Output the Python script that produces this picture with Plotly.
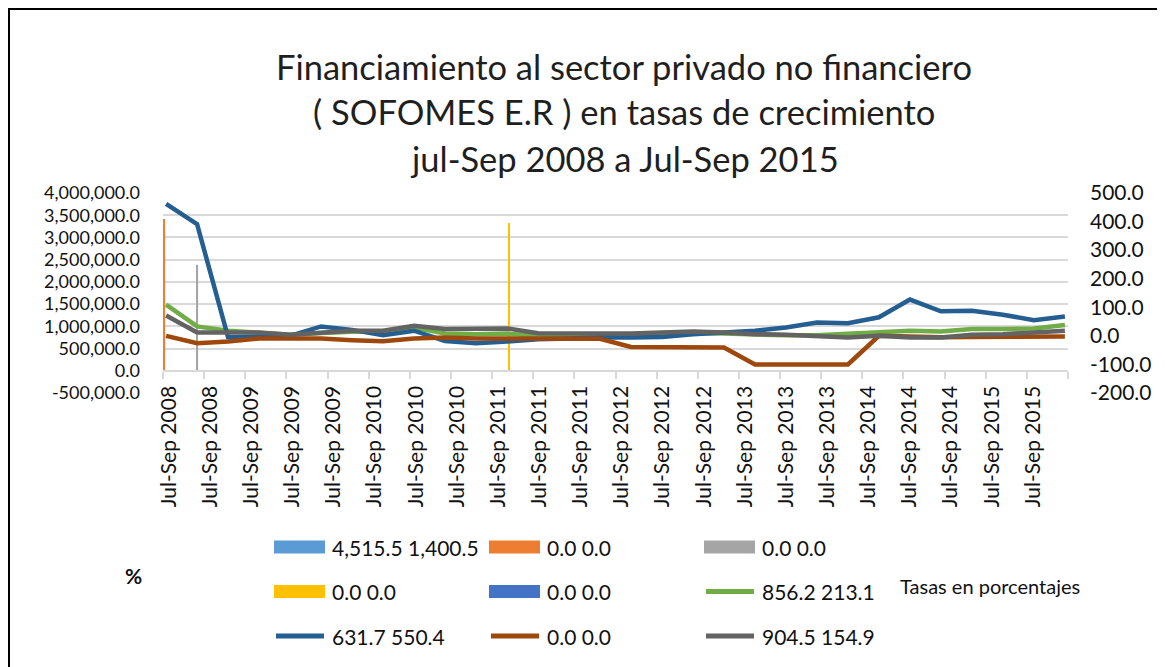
import plotly.graph_objects as go

# ---------------- data ----------------
etiquetas = ["Jul-Sep 2008", "Jul-Sep 2008", "Jul-Sep 2009", "Jul-Sep 2009", "Jul-Sep 2009",
             "Jul-Sep 2010", "Jul-Sep 2010", "Jul-Sep 2010", "Jul-Sep 2011", "Jul-Sep 2011",
             "Jul-Sep 2011", "Jul-Sep 2012", "Jul-Sep 2012", "Jul-Sep 2012", "Jul-Sep 2013",
             "Jul-Sep 2013", "Jul-Sep 2013", "Jul-Sep 2014", "Jul-Sep 2014", "Jul-Sep 2014",
             "Jul-Sep 2015", "Jul-Sep 2015"]

periodos = [1, 2, 3, 4, 5, 6, 7, 8, 9, 10, 11, 12, 13, 14, 15,
            16, 17, 18, 19, 20, 21, 22, 23, 24, 25, 26, 27, 28, 29, 30]

# column series (left axis)
barra_celeste = [0, 0, 0, 0, 0, 0, 0, 0, 0, 0, 0, 0, 0, 0, 0,
                 0, 0, 0, 0, 0, 0, 0, 0, 0, 0, 0, 0, 0, 0, 0]
barra_naranja = [3414000, 0, 0, 0, 0, 0, 0, 0, 0, 0, 0, 0, 0, 0, 0,
                 0, 0, 0, 0, 0, 0, 0, 0, 0, 0, 0, 0, 0, 0, 0]
barra_gris = [0, 2384000, 0, 0, 0, 0, 0, 0, 0, 0, 0, 0, 0, 0, 0,
              0, 0, 0, 0, 0, 0, 0, 0, 0, 0, 0, 0, 0, 0, 0]
barra_amarilla = [0, 0, 0, 0, 0, 0, 0, 0, 0, 0, 0, 3324000, 0, 0, 0,
                  0, 0, 0, 0, 0, 0, 0, 0, 0, 0, 0, 0, 0, 0, 0]
barra_azul = [0, 0, 0, 0, 0, 0, 0, 0, 0, 0, 0, 0, 0, 0, 0,
              0, 0, 0, 0, 0, 0, 0, 0, 0, 0, 0, 0, 0, 0, 0]

# line series (right axis, %)
linea_verde = [109, 33, 18, 10, 4, 10, 14, 14, 29, 8, 6, 8, 0, 2, 2,
               4, 6, 10, 8, 4, 2, 2, 8, 12, 18, 15, 24, 24, 26, 38]
linea_azul = [462, 391, -5, -4, 0, 33, 21, 2, 18, -18, -26, -20, -12, -9, -5,
              -6, -4, 6, 12, 18, 29, 47, 44, 65, 127, 86, 88, 74, 55, 68]
linea_cafe = [0, -26, -20, -9, -9, -9, -15, -19, -9, -6, -9, -9, -10, -10, -10,
              -39, -40, -41, -41, -100, -100, -100, -100, 0, -4, -5, -4, -4, -3, -2]
linea_gris = [71, 12, 12, 12, 4, 12, 18, 18, 35, 24, 24, 26, 9, 9, 6,
              8, 12, 15, 12, 6, 4, 0, -6, 0, -6, -6, 4, 6, 12, 18]

nombres = ["4,515.5 1,400.5", "0.0 0.0", "0.0 0.0", "0.0 0.0", "0.0 0.0",
           "856.2 213.1", "631.7 550.4", "0.0 0.0", "904.5 154.9"]
colores = ["#5B9BD5", "#ED7D31", "#A5A5A5", "#FFC000", "#4472C4",
           "#70AD47", "#255E91", "#9E480E", "#636363"]
tipos = ["bar", "bar", "bar", "bar", "bar", "line", "line", "line", "line"]
valores = [barra_celeste, barra_naranja, barra_gris, barra_amarilla, barra_azul,
           linea_verde, linea_azul, linea_cafe, linea_gris]

titulo_lineas = ["Financiamiento al sector privado no financiero",
                 "( SOFOMES E.R ) en tasas de crecimiento",
                 "jul-Sep 2008 a Jul-Sep 2015"]

izq_min, izq_max, izq_paso = -500000, 4000000, 500000
der_min, der_max, der_paso = -200, 500, 100

# ---------------- layout geometry ----------------
# page coordinates of the reference picture; the page body has an 8px margin
OFF = 8
W, H = 1165 - OFF, 667 - OFF
PL, PR, PT, PB = 163, 1068, 193, 393  # plot area in page pixels
FONT = "Lato"
TXT = "#111111"


def fx(p):
    return (p - PL) / (PR - PL)


def fy(p):
    return (PB - p) / (PB - PT)


fig = go.Figure()

for nom, col, tip, val in zip(nombres, colores, tipos, valores):
    if tip == "bar":
        fig.add_trace(go.Bar(x=periodos, y=val, name=nom, marker_color=col,
                             marker_line_width=0, xaxis="x", yaxis="y",
                             showlegend=False, hoverinfo="skip"))
for nom, col, tip, val in zip(nombres, colores, tipos, valores):
    if tip == "line":
        fig.add_trace(go.Scatter(x=periodos, y=val, name=nom, mode="lines",
                                 line=dict(color=col, width=4.5),
                                 xaxis="x", yaxis="y2", showlegend=False))
# empty trace so the category-label axis (x2) is drawn
fig.add_trace(go.Scatter(x=[], y=[], xaxis="x2", yaxis="y", showlegend=False,
                         hoverinfo="skip"))

izq_ticks = list(range(izq_min, izq_max + 1, izq_paso))
der_ticks = list(range(der_min, der_max + 1, der_paso))
cero_pos = (0 - izq_min) / (izq_max - izq_min)

fig.update_layout(
    width=W, height=H, autosize=False,
    margin=dict(l=PL - OFF, r=W - (PR - OFF), t=PT - OFF, b=H - (PB - OFF), pad=0),
    paper_bgcolor="white", plot_bgcolor="white",
    font=dict(family=FONT, size=21, color=TXT),
    barmode="group", bargap=0.68, bargroupgap=0,
    showlegend=False,
    xaxis=dict(range=[0.9, 30.1], visible=False, showgrid=False,
               zeroline=False, automargin=False),
    xaxis2=dict(overlaying="x", anchor="free", position=cero_pos,
                range=[0, len(etiquetas)],
                tickmode="array", tickvals=list(range(len(etiquetas) + 1)),
                ticktext=etiquetas + [""],
                tickangle=-90, ticks="outside", ticklen=7, tickwidth=1.5,
                tickcolor="#D9D9D9", showline=True, linecolor="#D9D9D9",
                linewidth=1.5, showgrid=False, zeroline=False,
                ticklabelstandoff=-1, ticklabelshift=6,
                tickfont=dict(family=FONT, size=21, color=TXT),
                automargin=False),
    yaxis=dict(range=[izq_min, izq_max], tickmode="array", tickvals=izq_ticks,
               ticktext=[f"{v:,.1f}" for v in izq_ticks],
               showgrid=True, gridcolor="#D9D9D9", gridwidth=1.5,
               zeroline=False, showline=False, ticks="",
               ticklabelstandoff=22,
               tickfont=dict(family=FONT, size=18, color=TXT),
               automargin=False),
    yaxis2=dict(overlaying="y", side="right", anchor="x",
                range=[der_min, der_max], tickmode="array", tickvals=der_ticks,
                ticktext=[f"{v:,.1f}" for v in der_ticks],
                showgrid=False, zeroline=False, showline=False, ticks="",
                ticklabelstandoff=21,
                tickfont=dict(family=FONT, size=21, color=TXT),
                automargin=False),
)

# title lines
for linea, yc in zip(titulo_lineas, [66, 111, 158]):
    fig.add_annotation(text=linea, xref="paper", yref="paper", x=fx(624), y=fy(yc),
                       xanchor="center", yanchor="middle", showarrow=False,
                       font=dict(family=FONT, size=34.5, color="#1f1f1f"))

# manual legend (3 columns x 3 rows)
for k, (nom, col, tip) in enumerate(zip(nombres, colores, tipos)):
    c, r = k % 3, k // 3
    x0 = 274 + 215 * c
    x1 = x0 + 51
    yc = 547 + 44.5 * r
    if tip == "bar":
        fig.add_shape(type="rect", xref="paper", yref="paper",
                      x0=fx(x0), x1=fx(x1), y0=fy(yc - 6.5), y1=fy(yc + 6.5),
                      fillcolor=col, line=dict(width=0))
    else:
        fig.add_shape(type="line", xref="paper", yref="paper",
                      x0=fx(x0 + 2), x1=fx(x1 - 1), y0=fy(yc), y1=fy(yc),
                      line=dict(color=col, width=5))
    fig.add_annotation(text=nom, xref="paper", yref="paper", x=fx(x1 + 5), y=fy(yc),
                       xanchor="left", yanchor="middle", showarrow=False,
                       font=dict(family=FONT, size=21, color=TXT))

fig.add_annotation(text="<b>%</b>", xref="paper", yref="paper", x=fx(133), y=fy(575),
                   xanchor="center", yanchor="middle", showarrow=False,
                   font=dict(family=FONT, size=21, color=TXT))
fig.add_annotation(text="Tasas en porcentajes", xref="paper", yref="paper",
                   x=fx(990), y=fy(586), xanchor="center", yanchor="middle",
                   showarrow=False, font=dict(family=FONT, size=20, color=TXT))

# outer chart border (left & top visible)
fig.add_shape(type="rect", xref="paper", yref="paper",
              x0=fx(OFF + 1), x1=fx(1200), y0=fy(OFF + 1), y1=fy(720),
              line=dict(color="black", width=2), fillcolor="rgba(0,0,0,0)", layer="above")

fig.write_html("out.html")
